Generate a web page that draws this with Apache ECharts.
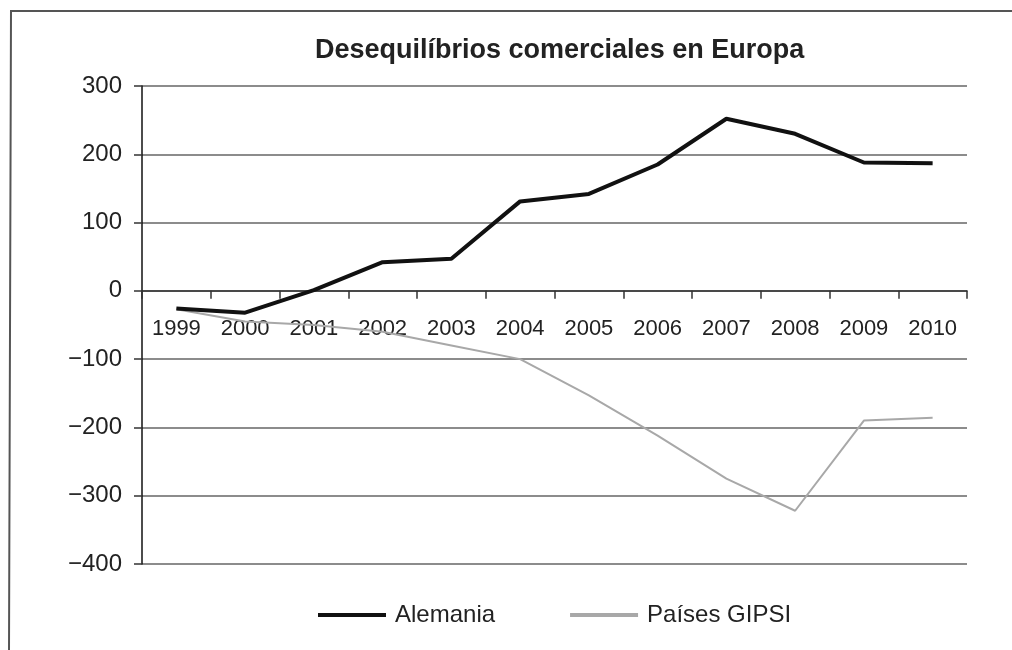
<!DOCTYPE html>
<html>
<head>
<meta charset="utf-8">
<script src="https://cdn.jsdelivr.net/npm/echarts@6/dist/echarts.min.js"></script>
<style>
  html, body { margin: 0; padding: 0; background: #fff; }
  #chart { width: 1012px; height: 650px; }
</style>
</head>
<body>
<div id="chart"></div>
<script>
// datos
const years = ['1999', '2000', '2001', '2002', '2003', '2004', '2005', '2006', '2007', '2008', '2009', '2010'];
const alemania = [-26, -32, 1, 42, 47, 131, 142, 185, 252, 230, 188, 187];
const gipsi = [-27, -45, -50, -60, -80, -100, -153, -212, -275, -322, -190, -186];

const chart = echarts.init(document.getElementById('chart'));

// el eje x va sobre el 0: se desplaza hacia arriba con offset
const gridTop = 86;
const gridBottom = 86;
const plotH = 650 - gridTop - gridBottom;
const zeroOffset = -plotH * 400 / 700;

const option = {
  backgroundColor: '#fff',
  textStyle: { fontFamily: 'Liberation Sans, Arial, sans-serif', color: '#222' },
  title: {
    text: 'Desequilíbrios comerciales en Europa',
    left: 310,
    top: 32,
    textStyle: { fontSize: 27, fontWeight: 'bold', color: '#222', fontFamily: 'Liberation Sans, Arial, sans-serif' }
  },
  legend: {
    top: 598,
    left: 313,
    itemWidth: 68,
    itemHeight: 4,
    itemGap: 75,
    icon: 'rect',
    textStyle: { fontSize: 24, color: '#222', padding: [0, 0, 0, 4] },
    data: ['Alemania', 'Países GIPSI']
  },
  grid: {
    left: 142,
    right: 45,
    top: gridTop,
    bottom: gridBottom
  },
  xAxis: {
    type: 'category',
    data: years,
    offset: zeroOffset,
    axisLine: { onZero: false, lineStyle: { color: '#333', width: 1.5 } },
    axisTick: { show: true, length: 8, lineStyle: { color: '#333', width: 1.5 } },
    axisLabel: { fontSize: 22, color: '#222', margin: 27 },
    splitLine: { show: false }
  },
  yAxis: {
    type: 'value',
    min: -400,
    max: 300,
    interval: 100,
    axisLine: { show: true, lineStyle: { color: '#111', width: 1.5 } },
    axisTick: { show: true, length: 8, lineStyle: { color: '#333', width: 1.5 } },
    axisLabel: {
      fontSize: 24,
      color: '#222',
      margin: 20,
      formatter: v => (v < 0 ? '\u2212' + Math.abs(v) : String(v))
    },
    splitLine: { lineStyle: { color: '#666', width: 1.5 } }
  },
  series: [
    {
      name: 'Alemania',
      type: 'line',
      data: alemania,
      symbol: 'none',
      lineStyle: { color: '#111', width: 4 },
      itemStyle: { color: '#111' },
      z: 3
    },
    {
      name: 'Países GIPSI',
      type: 'line',
      data: gipsi,
      symbol: 'none',
      lineStyle: { color: '#a8a8a8', width: 2 },
      itemStyle: { color: '#a8a8a8' },
      z: 2
    }
  ],
  graphic: [
    {
      type: 'polyline',
      shape: { points: [[1012, 11], [11, 11], [9, 650]] },
      style: { stroke: '#555', lineWidth: 2, fill: null }
    }
  ]
};

chart.setOption(option);
</script>
</body>
</html>
